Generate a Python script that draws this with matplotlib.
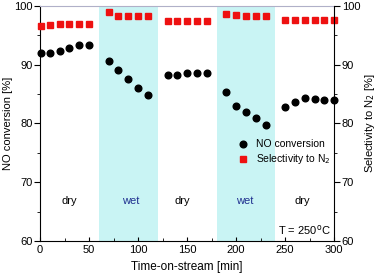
import matplotlib
matplotlib.use('Agg')
import matplotlib.pyplot as plt

plt.rcParams['font.family'] = ['Liberation Sans', 'DejaVu Sans']

# time on stream [min]
t_dry1 = [1, 10, 20, 30, 40, 50]
t_wet1 = [70, 80, 90, 100, 110]
t_dry2 = [130, 140, 150, 160, 170]
t_wet2 = [190, 200, 210, 220, 230]
t_dry3 = [250, 260, 270, 280, 290, 300]

# NO conversion [%]
no_dry1 = [92.0, 92.0, 92.3, 92.9, 93.3, 93.4]
no_wet1 = [90.6, 89.1, 87.5, 86.0, 84.9]
no_dry2 = [88.3, 88.3, 88.5, 88.6, 88.6]
no_wet2 = [85.3, 83.0, 82.0, 80.9, 79.8]
no_dry3 = [82.8, 83.6, 84.3, 84.1, 84.0, 84.0]

# selectivity to N2 [%]
sel_dry1 = [96.6, 96.7, 96.9, 96.9, 97.0, 97.0]
sel_wet1 = [98.9, 98.3, 98.3, 98.2, 98.2]
sel_dry2 = [97.4, 97.4, 97.4, 97.5, 97.5]
sel_wet2 = [98.7, 98.4, 98.3, 98.3, 98.3]
sel_dry3 = [97.6, 97.6, 97.6, 97.6, 97.6, 97.6]

wet_periods = [(60, 120), (180, 240)]
phase_labels = ["dry", "wet", "dry", "wet", "dry"]
phase_centers = [30, 92, 145, 209, 268]

t_all = t_dry1 + t_wet1 + t_dry2 + t_wet2 + t_dry3
no_all = no_dry1 + no_wet1 + no_dry2 + no_wet2 + no_dry3
sel_all = sel_dry1 + sel_wet1 + sel_dry2 + sel_wet2 + sel_dry3

fig = plt.figure(figsize=(3.78, 2.8), dpi=100)
ax = fig.add_axes([0.106, 0.139, 0.778, 0.840])

for (a, b) in wet_periods:
    ax.axvspan(a, b, color="#c9f4f4", lw=0, zorder=0)

ax.plot(t_all, no_all, "o", color="black", ms=4.8, label="NO conversion", clip_on=False, zorder=3)
ax.plot(t_all, sel_all, "s", color="#ee1111", ms=4.5, label="Selectivity to N$_2$", clip_on=False, zorder=3)

for lab, xc in zip(phase_labels, phase_centers):
    ax.text(xc, 66.8, lab, ha="center", va="center", fontsize=8,
            color="#1f2f8f" if lab == "wet" else "black")
ax.text(297, 61.9, "T = 250$^{\\rm o}$C", ha="right", va="center", fontsize=8)

ax.set_xlim(0, 300)
ax.set_ylim(60, 100)
ax.set_xticks([0, 50, 100, 150, 200, 250, 300])
ax.set_xticks([25, 75, 125, 175, 225, 275], minor=True)
ax.set_yticks([60, 70, 80, 90, 100])
ax.set_yticks([65, 75, 85, 95], minor=True)
ax.tick_params(axis="x", which="both", direction="in", labelsize=8, pad=3)
ax.tick_params(axis="x", which="major", length=3)
ax.tick_params(axis="x", which="minor", length=2)
ax.tick_params(axis="y", which="both", direction="out", labelsize=8, pad=1.5)
ax.tick_params(axis="y", which="major", length=4)
ax.tick_params(axis="y", which="minor", length=2.5)
ax.set_xlabel("Time-on-stream [min]", fontsize=8.5, labelpad=4)
ax.set_ylabel("NO conversion [%]", fontsize=8, labelpad=1)
ax.spines["top"].set_color("#b0b0c8")
ax.spines["right"].set_visible(False)

ax2 = ax.twinx()
ax2.set_ylim(60, 100)
ax2.set_yticks([60, 70, 80, 90, 100])
ax2.set_yticks([65, 75, 85, 95], minor=True)
ax2.tick_params(axis="y", which="both", direction="out", labelsize=8, pad=1.5)
ax2.tick_params(axis="y", which="major", length=4)
ax2.tick_params(axis="y", which="minor", length=2.5)
ax2.set_ylabel("Selectivity to N$_2$ [%]", fontsize=8, labelpad=2)
ax2.spines["top"].set_visible(False)
ax2.spines["left"].set_visible(False)
ax2.spines["bottom"].set_visible(False)

ax.legend(loc="lower left", bbox_to_anchor=(0.655, 0.30), frameon=False, fontsize=7.5,
          handletextpad=0.6, borderaxespad=0, labelspacing=0.3, handlelength=1.2)

fig.savefig("out.png", dpi=100)
